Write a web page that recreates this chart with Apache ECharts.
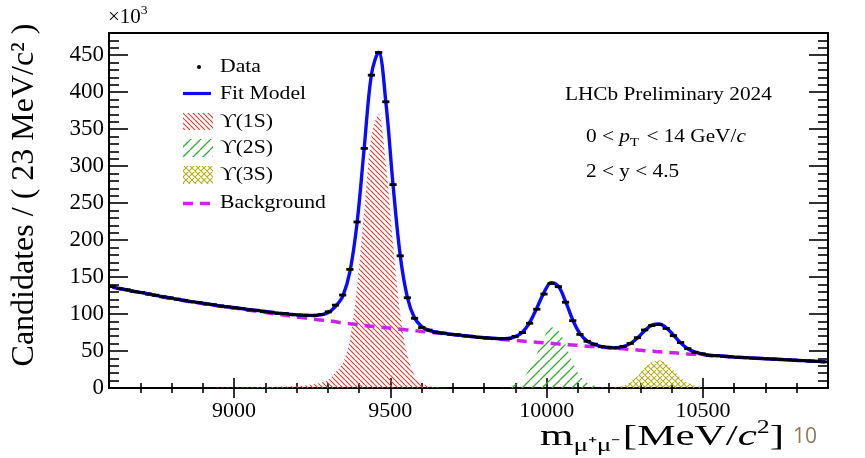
<!DOCTYPE html>
<html>
<head>
<meta charset="utf-8">
<script src="https://cdn.jsdelivr.net/npm/echarts@6/dist/echarts.min.js"></script>
<style>
  html, body { margin: 0; padding: 0; background: #fff; }
  #chart { width: 865px; height: 458px; }
</style>
</head>
<body>
<div id="chart"></div>
<script>
// binning: 100 bins of 23 MeV from 8600 to 10900
const binLow = 8600
const binWidth = 23
const nBins = 100

// counts per bin (x10^3)
const dataCounts = [
  137.0, 134.3, 132.8, 130.5, 129.2, 127.0, 125.5, 123.2, 121.9, 120.0,
  118.5, 116.6, 115.5, 113.7, 112.6, 110.9, 109.8, 108.5, 107.4, 105.7,
  105.1, 103.5, 102.6, 101.0, 100.6, 99.2, 98.7, 98.1, 98.2, 99.3,
  103.0, 112.0, 125.7, 160.4, 224.5, 324.0, 423.0, 453.6, 387.0, 275.0,
  178.7, 122.0, 94.3, 81.7, 78.3, 75.4, 74.2, 72.6, 71.9, 70.4,
  69.8, 68.4, 67.8, 67.0, 66.8, 66.9, 69.8, 75.0, 87.6, 106.5,
  127.0, 141.5, 137.0, 116.0, 91.0, 72.5, 63.2, 59.3, 55.8, 55.0,
  54.3, 56.2, 60.3, 68.0, 78.5, 84.5, 85.8, 80.5, 70.8, 61.5,
  53.2, 48.3, 46.2, 44.1, 43.8, 42.9, 42.3, 41.4, 41.2, 40.4,
  40.1, 39.4, 39.1, 38.4, 38.1, 37.4, 37.1, 36.4, 36.1, 35.4
]

// total fit model at bin centres
const fitModel = [
  136.5, 134.5, 132.5, 130.7, 129.0, 127.2, 125.3, 123.4, 121.8, 120.2,
  118.3, 116.8, 115.4, 113.9, 112.5, 111.1, 109.7, 108.7, 107.3, 105.9,
  105.0, 103.7, 102.4, 101.2, 100.5, 99.4, 98.5, 98.3, 98.0, 99.0,
  102.0, 110.5, 124.0, 157.0, 223.0, 325.0, 424.0, 454.0, 387.0, 275.5,
  179.5, 122.5, 94.5, 83.0, 78.0, 75.7, 74.0, 72.8, 71.7, 70.6,
  69.6, 68.6, 67.6, 67.2, 66.6, 67.0, 69.5, 75.5, 88.5, 108.0,
  129.0, 142.5, 137.5, 117.0, 92.0, 73.5, 63.5, 59.0, 56.0, 54.8,
  54.5, 56.0, 60.0, 67.5, 77.5, 85.0, 86.5, 81.5, 71.5, 61.0,
  53.0, 48.5, 46.0, 44.3, 43.6, 43.1, 42.1, 41.6, 41.1, 40.5,
  40.0, 39.5, 39.0, 38.5, 38.0, 37.5, 37.0, 36.5, 36.0, 35.5
]

// combinatorial background
const background = [
  136.0, 134.0, 132.5, 130.5, 129.0, 127.0, 125.0, 123.0, 121.5, 120.0,
  118.0, 116.5, 115.0, 113.5, 112.0, 110.5, 109.0, 108.0, 106.5, 105.0,
  104.0, 102.5, 101.0, 99.5, 98.5, 97.0, 95.5, 94.5, 93.0, 92.0,
  91.0, 89.5, 88.0, 87.0, 86.0, 84.5, 83.5, 82.5, 81.5, 80.5,
  79.5, 78.5, 77.5, 76.5, 75.5, 74.5, 73.5, 72.5, 71.5, 70.5,
  69.5, 68.5, 67.5, 67.0, 66.0, 65.0, 64.5, 63.5, 62.5, 62.0,
  61.0, 60.5, 59.5, 59.0, 58.0, 57.5, 56.5, 56.0, 55.0, 54.5,
  53.5, 53.0, 52.0, 51.5, 50.5, 50.0, 49.0, 48.5, 47.5, 47.0,
  46.0, 45.5, 45.0, 44.0, 43.5, 43.0, 42.0, 41.5, 41.0, 40.5,
  40.0, 39.5, 39.0, 38.5, 38.0, 37.5, 37.0, 36.5, 36.0, 35.5
]

// signal components, first bin index + values
const ups1SStart = 11
const ups1S = [
  0, 0.4, 0.5, 0.5, 0.6, 0.7, 0.7, 0.8, 0.9, 1.0,
  1.2, 1.4, 1.7, 2.0, 2.4, 3.0, 3.8, 5.0, 7.0, 11,
  21, 33, 65, 137, 240, 340, 371, 305, 195, 100,
  44, 17, 6, 2.5, 1.2, 0.5, 0
]
const ups2SStart = 54
const ups2S = [0, 2, 5, 12, 26, 46, 68, 82, 78, 58, 34, 16, 7, 3, 1, 0]
const ups3SStart = 69
const ups3S = [0, 1, 3, 8, 16, 27, 35, 37.5, 33, 24, 14, 7, 3, 1, 0]

const xMajor = [9000, 9500, 10000, 10500]
const xMinor = [8700, 8800, 8900, 9100, 9200, 9300, 9400, 9600, 9700, 9800, 9900,
  10100, 10200, 10300, 10400, 10600, 10700, 10800]
const yMajor = [0, 50, 100, 150, 200, 250, 300, 350, 400, 450]
const yMinor = []
for (let v = 10; v < 480; v += 10) if (v % 50) yMinor.push(v)

const serif = '"Liberation Serif", "Times New Roman", serif'

const binCentre = i => binLow + binWidth * (i + 0.5)
const toPairs = (vals, start) => vals.map((v, k) => [binCentre(start + k), v])

// hatch patterns
function hatch(size, color, width, draw) {
  const c = document.createElement('canvas')
  c.width = size
  c.height = size
  const ctx = c.getContext('2d')
  ctx.strokeStyle = color
  ctx.lineWidth = width
  draw(ctx, size)
  return { image: c, repeat: 'repeat' }
}
const redHatch = hatch(5, '#ea3a30', 1.2, (ctx, s) => {
  ctx.beginPath()
  for (let k = -1; k <= 1; k++) {
    ctx.moveTo(k * s, 0)
    ctx.lineTo(k * s + s, s)
  }
  ctx.stroke()
})
const greenHatch = hatch(10, '#36aa36', 1.3, (ctx, s) => {
  ctx.beginPath()
  for (let k = -1; k <= 1; k++) {
    ctx.moveTo(k * s, s)
    ctx.lineTo(k * s + s, 0)
  }
  ctx.stroke()
})
const oliveHatch = hatch(6, '#b5ae1e', 1.1, (ctx, s) => {
  ctx.beginPath()
  for (let k = -1; k <= 1; k++) {
    ctx.moveTo(k * s, 0)
    ctx.lineTo(k * s + s, s)
    ctx.moveTo(k * s, s)
    ctx.lineTo(k * s + s, 0)
  }
  ctx.stroke()
})

// lay out a run of text pieces (sub/superscripts) left to right, optionally stretched
const measure = document.createElement('canvas').getContext('2d')
function textRun(x, y, parts, sx, fill) {
  const children = []
  let cx = 0
  parts.forEach(p => {
    const style = p.italic ? 'italic' : 'normal'
    measure.font = style + ' ' + p.size + 'px ' + serif
    children.push({
      type: 'text', x: cx, y: p.dy || 0, silent: true,
      style: {
        text: p.t, fontSize: p.size, fontFamily: serif, fontStyle: style,
        fill: fill || '#000', verticalAlign: 'middle'
      }
    })
    cx += measure.measureText(p.t).width + (p.gap || 0)
  })
  return { type: 'group', x: x, y: y, scaleX: sx || 1, children: children, width: cx }
}
function fitRun(x, right, y, parts) {
  const g = textRun(x, y, parts)
  g.scaleX = (right - x) / g.width
  return g
}

const legendX = 220
const legend = [
  { type: 'circle', shape: { cx: 199, cy: 67, r: 2 }, style: { fill: '#000' } },
  { type: 'line', shape: { x1: 183, y1: 93.5, x2: 211, y2: 93.5 }, style: { stroke: '#0a0aff', lineWidth: 3.2 } },
  { type: 'rect', shape: { x: 183, y: 113, width: 30, height: 17 }, style: { fill: redHatch } },
  { type: 'rect', shape: { x: 183, y: 139, width: 30, height: 18 }, style: { fill: greenHatch } },
  { type: 'rect', shape: { x: 183, y: 166, width: 30, height: 18 }, style: { fill: oliveHatch } },
  { type: 'line', shape: { x1: 183, y1: 203.5, x2: 211, y2: 203.5 }, style: { stroke: '#cc22ee', lineWidth: 3.5, lineDash: [10, 7] } }
]
const legendLabels = ['Data', 'Fit Model', 'ϒ(1S)', 'ϒ(2S)', 'ϒ(3S)', 'Background']
const legendY = [67, 94, 122, 148.5, 175.5, 203.5]
legendLabels.forEach((t, i) => {
  legend.push(textRun(legendX, legendY[i], [{ t: t, size: 19 }], 1.14))
})

const labels = [
  textRun(108, 18, [{ t: '×10', size: 20 }, { t: '3', size: 13, dy: -7 }], 1.05),
  textRun(565, 95, [{ t: 'LHCb Preliminary 2024', size: 19 }], 1.12),
  textRun(586, 137, [
    { t: '0 < ', size: 19 }, { t: 'p', size: 19, italic: true },
    { t: 'T', size: 13, dy: 6, gap: 2 }, { t: ' < 14 GeV/', size: 19 }, { t: 'c', size: 19, italic: true }
  ], 1.12),
  textRun(586, 172, [{ t: '2 < y < 4.5', size: 19 }], 1.12),
  fitRun(540, 784, 437, [
    { t: 'm', size: 30 }, { t: 'μ⁺μ⁻', size: 19, dy: 9, gap: 2 },
    { t: '[MeV/', size: 30 }, { t: 'c', size: 30, italic: true },
    { t: '2', size: 18, dy: -9 }, { t: ']', size: 30 }
  ]),
  {
    type: 'text', x: 793, y: 437,
    style: { text: '10', fontSize: 21, fontFamily: '"Open Sans", sans-serif', fill: '#8c7b57', verticalAlign: 'middle' }
  },
  {
    type: 'text', x: 25, y: 195, rotation: Math.PI / 2,
    style: {
      text: 'Candidates / ( 23 MeV/c² )', fontSize: 32, fontFamily: serif, fill: '#000',
      align: 'center', verticalAlign: 'middle'
    }
  }
]

function tickAxis(kind, position, values, length, withLabels) {
  const ax = {
    type: 'value', position: position,
    min: kind === 'x' ? binLow : 0,
    max: kind === 'x' ? binLow + binWidth * nBins : 480,
    axisLine: { show: false },
    splitLine: { show: false },
    axisTick: { show: true, inside: true, length: length, customValues: values, lineStyle: { color: '#000', width: 1.6 } },
    axisLabel: { show: false }
  }
  if (withLabels) {
    ax.axisLabel = {
      show: true, customValues: values, color: '#000',
      formatter: v => String(v),
      fontFamily: serif, fontSize: kind === 'x' ? 22 : 23, margin: kind === 'x' ? 12 : 5
    }
  }
  return ax
}

const chart = echarts.init(document.getElementById('chart'), null, { renderer: 'canvas' })

chart.setOption({
  animation: false,
  backgroundColor: '#fff',
  grid: { left: 109, right: 37, top: 33, bottom: 70, show: true, borderColor: '#000', borderWidth: 2, backgroundColor: 'transparent' },
  xAxis: [
    tickAxis('x', 'bottom', xMajor, 10, true),
    tickAxis('x', 'bottom', xMinor, 5, false),
    tickAxis('x', 'top', xMajor, 10, false),
    tickAxis('x', 'top', xMinor, 5, false)
  ],
  yAxis: [
    tickAxis('y', 'left', yMajor, 19, true),
    tickAxis('y', 'left', yMinor, 10, false),
    tickAxis('y', 'right', yMajor, 19, false),
    tickAxis('y', 'right', yMinor, 10, false)
  ],
  series: [
    {
      name: 'ϒ(1S)', type: 'line', data: toPairs(ups1S, ups1SStart), smooth: 0.3,
      symbol: 'none', lineStyle: { width: 0 }, areaStyle: { color: redHatch, opacity: 1 }, z: 1
    },
    {
      name: 'ϒ(2S)', type: 'line', data: toPairs(ups2S, ups2SStart), smooth: 0.3,
      symbol: 'none', lineStyle: { width: 0 }, areaStyle: { color: greenHatch, opacity: 1 }, z: 1
    },
    {
      name: 'ϒ(3S)', type: 'line', data: toPairs(ups3S, ups3SStart), smooth: 0.3,
      symbol: 'none', lineStyle: { width: 0 }, areaStyle: { color: oliveHatch, opacity: 1 }, z: 1
    },
    {
      name: 'Background', type: 'line', data: toPairs(background, 0), smooth: true,
      symbol: 'none', lineStyle: { color: '#cc22ee', width: 3.5, type: [10, 7] }, z: 2
    },
    {
      name: 'Fit Model', type: 'line', data: toPairs(fitModel, 0), smooth: 0.35,
      symbol: 'none', lineStyle: { color: '#0a0aff', width: 3.4 }, z: 3
    },
    {
      name: 'Data', type: 'custom', z: 4, clip: true,
      data: toPairs(dataCounts, 0),
      renderItem: (params, api) => {
        const x = api.value(0)
        const y = api.value(1)
        const l = api.coord([x - binWidth / 2, y])
        const r = api.coord([x + binWidth / 2, y])
        return {
          type: 'group',
          children: [
            { type: 'line', shape: { x1: l[0], y1: l[1], x2: r[0], y2: r[1] }, style: { stroke: '#000', lineWidth: 2.8 } },
            { type: 'circle', shape: { cx: (l[0] + r[0]) / 2, cy: l[1], r: 1.5 }, style: { fill: '#000' } }
          ]
        }
      }
    }
  ],
  graphic: legend.concat(labels)
})
</script>
</body>
</html>
